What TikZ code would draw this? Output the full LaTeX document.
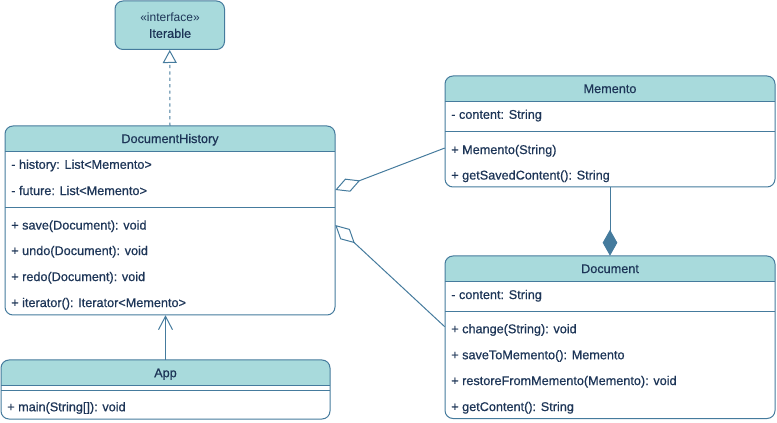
\documentclass[tikz,border=0pt]{standalone}
\usepackage{fontspec}
\setmainfont{Liberation Sans}[FakeBold=0.6]
\newfontfamily\lightfont{Liberation Sans}
\usetikzlibrary{fit,arrows.meta}
\definecolor{hdr}{HTML}{A8DADC}
\definecolor{edge}{HTML}{457B9D}
\definecolor{ink}{HTML}{1D3557}
\newcommand\umlclassbox[6]{%
  \node[fit={(#2,#3) (#4,#5)}, inner sep=0pt] (#1) {};
  \fill[white, rounded corners=6pt] (#2,#3) rectangle (#4,#5);
  \begin{scope}
    \clip (#2,#3) rectangle (#4,#6);
    \fill[hdr, rounded corners=6pt] (#2,#3) rectangle (#4,#5);
  \end{scope}
  \draw[edge, line width=0.75pt] (#2,#6) -- (#4,#6);
  \draw[edge, line width=0.75pt, rounded corners=6pt] (#2,#3) rectangle (#4,#5);
}
\begin{document}
\begin{tikzpicture}[x=0.75pt, y=-0.75pt,
  font=\fontsize{9.5}{11}\selectfont,
  txt/.style={text=ink, inner sep=0pt, text height=6.8pt, text depth=0pt},
  mem/.style={txt, anchor=west},
  ttl/.style={txt, anchor=center},
  sepline/.style={draw=edge, line width=0.75pt},
  conn/.style={draw=edge, line width=0.75pt}]
\useasboundingbox (0,0) rectangle (777,423);

% Iterable
\node[fit={(115,1) (224.5,49.5)}, inner sep=0pt, fill=hdr, draw=edge, line width=0.75pt, rounded corners=6pt] (it) {};
\node[ttl, font=\lightfont\fontsize{9}{11}\selectfont] (itst) at (170,17.3) {«interface»};
\node[ttl] (itname) at (170,33.3) {Iterable};

% DocumentHistory
\umlclassbox{dh}{5}{126}{335}{315}{152}
\draw[sepline] (5,207.7) -- (335,207.7);
\node[ttl] (dht) at (170,138.5) {DocumentHistory};
\node[mem] (dh1) at (11,164.3) {- history: List<Memento>};
\node[mem] (dh2) at (11,190.5) {- future: List<Memento>};
\node[mem] (dh3) at (11,225) {+ save(Document): void};
\node[mem] (dh4) at (11,250.5) {+ undo(Document): void};
\node[mem] (dh5) at (11,276.5) {+ redo(Document): void};
\node[mem] (dh6) at (11,302.5) {+ iterator(): Iterator<Memento>};

% Memento
\umlclassbox{mem}{445}{76}{775}{187}{102}
\draw[sepline] (445,131.7) -- (775,131.7);
\node[ttl] (memt) at (610,88.5) {Memento};
\node[mem] (mem1) at (451,114.3) {- content: String};
\node[mem] (mem2) at (451,149.5) {+ Memento(String)};
\node[mem] (mem3) at (451,175) {+ getSavedContent(): String};

% Document
\umlclassbox{doc}{445}{256}{775}{418.5}{282}
\draw[sepline] (445,311.7) -- (775,311.7);
\node[ttl] (doct) at (610,268.5) {Document};
\node[mem] (doc1) at (451,294.5) {- content: String};
\node[mem] (doc2) at (451,328.7) {+ change(String): void};
\node[mem] (doc3) at (451,354.7) {+ saveToMemento(): Memento};
\node[mem] (doc4) at (451,380.5) {+ restoreFromMemento(Memento): void};
\node[mem] (doc5) at (451,406.5) {+ getContent(): String};

% App
\umlclassbox{app}{1}{360}{330}{419}{385.7}
\draw[sepline] (1,390) -- (330,390);
\node[ttl] (appt) at (165.5,372.7) {App};
\node[mem] (app1) at (7,406.7) {+ main(String[]): void};

% connectors
\draw[conn, dash pattern=on 2.4pt off 2.4pt, -{Triangle[open, length=9.75pt, width=10.5pt]}] (dh.north) -- (it.south);
\draw[conn, -{Straight Barb[length=10pt, width=10.5pt]}] (app.north) -- (app.north |- dh.south);
\draw[conn, -{Diamond[open, length=20pt, width=10.5pt]}] ([yshift=-12.4pt]mem.west) -- ([yshift=22.9pt]dh.east);
\draw[conn, -{Diamond[open, length=20pt, width=10.5pt]}] ([yshift=7.9pt]doc.west) -- ([yshift=-3.4pt]dh.east);
\draw[conn, -{Diamond[length=19.5pt, width=11pt, fill=edge]}] (mem.south) -- (doc.north);
\end{tikzpicture}
\end{document}
